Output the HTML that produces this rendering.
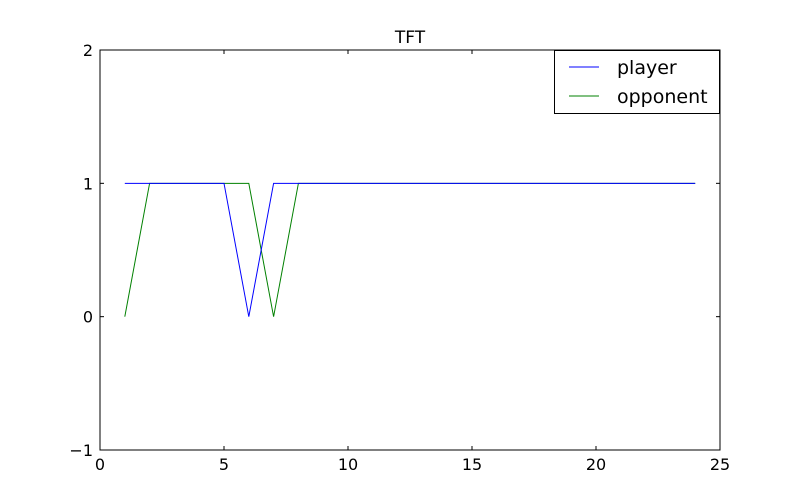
<!DOCTYPE html>
<html><head><meta charset="utf-8"><style>
body{margin:0;background:#fff;}
svg{display:block;font-family:"DejaVu Sans","Liberation Sans",sans-serif;}
</style></head><body>
<svg id="chart" width="800" height="500">
<rect x="0" y="0" width="800" height="500" fill="#fff"/>
<text x="410" y="43" font-size="17" text-anchor="middle">TFT</text>
<g id="plot"></g>
<rect x="100" y="50" width="620" height="400" fill="none" stroke="#000" stroke-width="1"/>
<g>
<rect x="554.5" y="50.5" width="165" height="63" fill="#fff" stroke="#000"/>
<line x1="569" y1="67" x2="599" y2="67" stroke="#0000ff"/>
<text x="617" y="74" font-size="19">player</text>
<line x1="569" y1="96" x2="599" y2="96" stroke="#008000"/>
<text x="617" y="103" font-size="19">opponent</text>
</g>
</svg>
<script>
const xs=[1,2,3,4,5,6,7,8,9,10,11,12,13,14,15,16,17,18,19,20,21,22,23,24];
const player=[1,1,1,1,1,0,1,1,1,1,1,1,1,1,1,1,1,1,1,1,1,1,1,1];
const opponent=[0,1,1,1,1,1,0,1,1,1,1,1,1,1,1,1,1,1,1,1,1,1,1,1];
const xTicks=[0,5,10,15,20,25];
const yTicks=[-1,0,1,2];
const X=v=>100+(v-0)/25*620;
const Y=v=>450-(v+1)/3*400;
const NS="http://www.w3.org/2000/svg";
const g=document.getElementById('plot');
function mk(t,a){const e=document.createElementNS(NS,t);for(const k in a)e.setAttribute(k,a[k]);g.appendChild(e);return e;}
xTicks.forEach(t=>{
 const x=X(t);
 let l=mk('line',{x1:x,y1:450,x2:x,y2:446,stroke:'#000'});
 
 
 mk('line',{x1:x,y1:50,x2:x,y2:54,stroke:'#000'});
 let tx=mk('text',{x:x,y:470,'font-size':16,'text-anchor':'middle'});
 tx.textContent=t;
 
 
});
yTicks.forEach(t=>{
 const y=Y(t);
 let l=mk('line',{x1:100,y1:y,x2:104,y2:y,stroke:'#000'});
 
 
 mk('line',{x1:720,y1:y,x2:716,y2:y,stroke:'#000'});
 let tx=mk('text',{x:93,y:y+6,'font-size':16,'text-anchor':'end'});
 tx.textContent=t<0?'\u22121':t;
 
 
});
function series(vals,color,name){
 const p=mk('polyline',{points:xs.map((x,i)=>X(x)+','+Y(vals[i])).join(' '),fill:'none',stroke:color,'stroke-width':1});
 
 
}
series(opponent,'#008000','opponent-line');
series(player,'#0000ff','player-line');
</script>
</body></html>
